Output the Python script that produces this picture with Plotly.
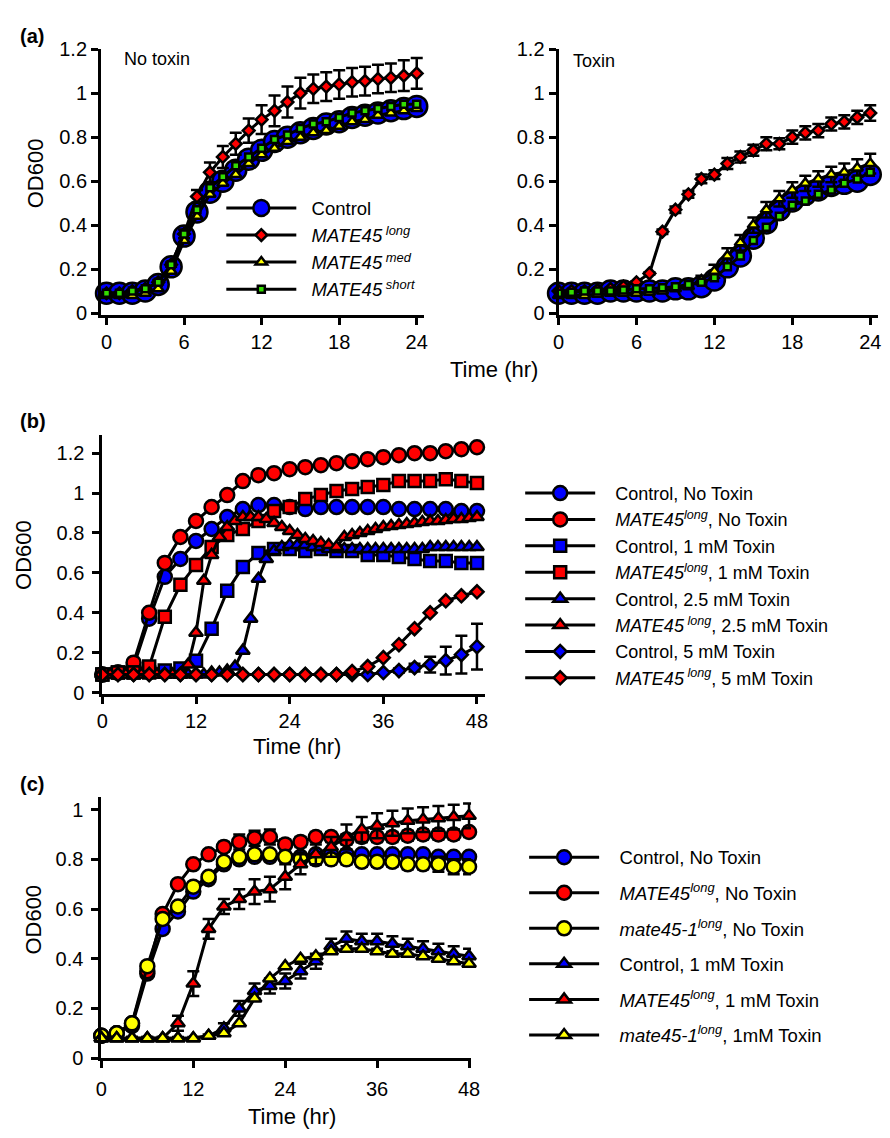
import plotly.graph_objects as go

W, H = 890, 1138
FONT = "Liberation Sans, Arial, Helvetica, sans-serif"


def fx(p):
    return p / W


def fy(p):
    return 1 - p / H


# ---------------- Panel (a): hourly, 0-24 h ----------------
time_a = list(range(25))
a_nt_control = [0.09, 0.09, 0.09, 0.10, 0.13, 0.21, 0.35, 0.46, 0.55, 0.60, 0.65, 0.70, 0.74,
                0.78, 0.80, 0.82, 0.84, 0.86, 0.87, 0.89, 0.90, 0.91, 0.92, 0.93, 0.94]
a_nt_long = [0.09, 0.09, 0.10, 0.11, 0.14, 0.22, 0.36, 0.53, 0.64, 0.71, 0.77, 0.83, 0.88,
             0.92, 0.96, 1.00, 1.02, 1.03, 1.04, 1.05, 1.055, 1.065, 1.07, 1.08, 1.09]
a_nt_long_err = [0.005, 0.005, 0.005, 0.005, 0.01, 0.01, 0.02, 0.03, 0.045, 0.05, 0.05, 0.055, 0.065,
                 0.07, 0.07, 0.07, 0.065, 0.065, 0.065, 0.065, 0.065, 0.065, 0.065, 0.07, 0.07]
a_nt_med = [0.08, 0.08, 0.08, 0.09, 0.11, 0.19, 0.33, 0.44, 0.54, 0.59, 0.63, 0.68, 0.72,
            0.75, 0.78, 0.80, 0.82, 0.83, 0.85, 0.87, 0.88, 0.90, 0.91, 0.92, 0.93]
a_nt_short = [0.09, 0.09, 0.10, 0.11, 0.14, 0.22, 0.36, 0.47, 0.57, 0.62, 0.67, 0.71, 0.75,
              0.79, 0.81, 0.84, 0.86, 0.87, 0.89, 0.91, 0.92, 0.93, 0.94, 0.95, 0.95]

a_tx_control = [0.09, 0.09, 0.09, 0.09, 0.10, 0.10, 0.10, 0.10, 0.10, 0.11, 0.11, 0.12, 0.15,
                0.21, 0.26, 0.34, 0.41, 0.47, 0.51, 0.54, 0.56, 0.58, 0.59, 0.60, 0.63]
a_tx_long = [0.10, 0.10, 0.10, 0.105, 0.11, 0.12, 0.14, 0.18, 0.37, 0.47, 0.54, 0.61, 0.63,
             0.68, 0.71, 0.74, 0.77, 0.77, 0.80, 0.82, 0.83, 0.86, 0.87, 0.89, 0.91]
a_tx_long_err = [0.005, 0.005, 0.005, 0.005, 0.005, 0.005, 0.005, 0.005, 0.01, 0.015, 0.015, 0.02, 0.02,
                 0.025, 0.025, 0.025, 0.03, 0.025, 0.03, 0.03, 0.03, 0.03, 0.03, 0.03, 0.035]
a_tx_med = [0.08, 0.08, 0.08, 0.085, 0.09, 0.09, 0.09, 0.095, 0.10, 0.11, 0.12, 0.15, 0.19,
            0.26, 0.32, 0.40, 0.47, 0.52, 0.56, 0.59, 0.61, 0.63, 0.64, 0.66, 0.68]
a_tx_med_err = [0.005, 0.005, 0.005, 0.005, 0.005, 0.005, 0.005, 0.005, 0.005, 0.005, 0.005, 0.02, 0.03,
                0.035, 0.035, 0.035, 0.035, 0.035, 0.035, 0.035, 0.035, 0.035, 0.04, 0.04, 0.045]
a_tx_short = [0.09, 0.095, 0.10, 0.10, 0.10, 0.105, 0.11, 0.11, 0.115, 0.12, 0.13, 0.14, 0.16,
              0.21, 0.26, 0.33, 0.39, 0.44, 0.49, 0.51, 0.54, 0.56, 0.59, 0.61, 0.64]

a_names = ["Control",
           "<i>MATE45<sup> long</sup></i>",
           "<i>MATE45<sup> med</sup></i>",
           "<i>MATE45<sup> short</sup></i>"]
a_xticks = [0, 6, 12, 18, 24]
a_yticks = [0, 0.2, 0.4, 0.6, 0.8, 1.0, 1.2]
a_yticklabels = ["0", "0.2", "0.4", "0.6", "0.8", "1", "1.2"]

# ---------------- Panel (b): 0-48 h ----------------
time_b2 = list(range(0, 49, 2))   # circles, squares, diamonds
time_b1 = list(range(0, 49))      # triangles (hourly)
b_ctrl_none = [0.09, 0.10, 0.13, 0.37, 0.58, 0.67, 0.76, 0.82, 0.88, 0.92, 0.94, 0.94, 0.93,
               0.92, 0.93, 0.93, 0.93, 0.93, 0.93, 0.92, 0.92, 0.92, 0.92, 0.91, 0.91]
b_long_none = [0.09, 0.10, 0.15, 0.40, 0.65, 0.78, 0.86, 0.93, 0.99, 1.06, 1.09, 1.10, 1.12,
               1.13, 1.14, 1.15, 1.16, 1.17, 1.18, 1.19, 1.20, 1.20, 1.21, 1.22, 1.23]
b_ctrl_1mM = [0.09, 0.10, 0.10, 0.10, 0.11, 0.12, 0.16, 0.32, 0.51, 0.63, 0.70, 0.72, 0.72,
              0.71, 0.72, 0.71, 0.71, 0.69, 0.69, 0.68, 0.67, 0.66, 0.66, 0.65, 0.65]
b_long_1mM = [0.09, 0.10, 0.10, 0.13, 0.38, 0.54, 0.64, 0.73, 0.79, 0.82, 0.86, 0.91, 0.93,
              0.97, 0.99, 1.01, 1.02, 1.03, 1.04, 1.06, 1.06, 1.06, 1.07, 1.06, 1.05]
b_ctrl_25mM = [0.09, 0.09, 0.09, 0.09, 0.09, 0.09, 0.09, 0.09, 0.09, 0.09, 0.09, 0.09, 0.09,
               0.09, 0.10, 0.10, 0.11, 0.13, 0.21, 0.37, 0.57, 0.67, 0.71, 0.73, 0.74,
               0.74, 0.74, 0.73, 0.73, 0.72, 0.72, 0.72, 0.72, 0.72, 0.72, 0.72, 0.72,
               0.72, 0.72, 0.72, 0.72, 0.72, 0.73, 0.73, 0.73, 0.73, 0.73, 0.73, 0.73]
b_long_25mM = [0.09, 0.09, 0.09, 0.09, 0.09, 0.09, 0.09, 0.09, 0.09, 0.09, 0.09, 0.14, 0.30,
               0.56, 0.69, 0.78, 0.83, 0.86, 0.88, 0.88, 0.88, 0.87, 0.85, 0.83, 0.81,
               0.79, 0.77, 0.76, 0.75, 0.74, 0.73, 0.78, 0.79, 0.80, 0.81, 0.82, 0.83,
               0.835, 0.84, 0.845, 0.85, 0.855, 0.86, 0.86, 0.865, 0.87, 0.87, 0.875, 0.88]
b_ctrl_5mM = [0.09, 0.09, 0.09, 0.09, 0.09, 0.09, 0.09, 0.09, 0.09, 0.09, 0.09, 0.09, 0.09,
              0.09, 0.09, 0.09, 0.09, 0.09, 0.10, 0.11, 0.125, 0.14, 0.16, 0.19, 0.23]
b_ctrl_5mM_err = [0.005, 0.005, 0.005, 0.005, 0.005, 0.005, 0.005, 0.005, 0.005, 0.005, 0.005, 0.005, 0.005,
                  0.005, 0.005, 0.005, 0.005, 0.005, 0.005, 0.01, 0.02, 0.04, 0.07, 0.095, 0.115]
b_long_5mM = [0.09, 0.09, 0.09, 0.09, 0.09, 0.09, 0.09, 0.09, 0.09, 0.09, 0.09, 0.09, 0.09,
              0.09, 0.09, 0.09, 0.105, 0.13, 0.175, 0.24, 0.32, 0.40, 0.46, 0.485, 0.505]

b_names = ["Control, No Toxin",
           "<i>MATE45<sup>long</sup></i>, No Toxin",
           "Control, 1 mM Toxin",
           "<i>MATE45<sup>long</sup></i>, 1 mM Toxin",
           "Control, 2.5 mM Toxin",
           "<i>MATE45<sup> long</sup></i>, 2.5 mM Toxin",
           "Control, 5 mM Toxin",
           "<i>MATE45<sup> long</sup></i>, 5 mM Toxin"]
b_xticks = [0, 12, 24, 36, 48]
b_yticks = [0, 0.2, 0.4, 0.6, 0.8, 1.0, 1.2]
b_yticklabels = ["0", "0.2", "0.4", "0.6", "0.8", "1", "1.2"]

# ---------------- Panel (c): every 2 h, 0-48 h ----------------
time_c = list(range(0, 49, 2))
c_ctrl_none = [0.09, 0.10, 0.13, 0.34, 0.52, 0.59, 0.67, 0.72, 0.78, 0.80, 0.81, 0.81, 0.81,
               0.81, 0.82, 0.82, 0.82, 0.82, 0.82, 0.82, 0.82, 0.82, 0.81, 0.81, 0.81]
c_long_none = [0.09, 0.10, 0.14, 0.35, 0.58, 0.70, 0.78, 0.82, 0.85, 0.87, 0.885, 0.89, 0.86,
               0.87, 0.89, 0.89, 0.88, 0.89, 0.89, 0.89, 0.895, 0.90, 0.90, 0.90, 0.91]
c_long_none_err = [0.005, 0.005, 0.005, 0.01, 0.01, 0.01, 0.01, 0.01, 0.02, 0.03, 0.03, 0.03, 0.02,
                   0.02, 0.02, 0.02, 0.02, 0.02, 0.02, 0.02, 0.02, 0.02, 0.02, 0.02, 0.02]
c_mut_none = [0.09, 0.10, 0.14, 0.37, 0.56, 0.61, 0.69, 0.73, 0.79, 0.81, 0.82, 0.82, 0.81,
              0.80, 0.80, 0.80, 0.80, 0.79, 0.79, 0.79, 0.78, 0.78, 0.78, 0.77, 0.77]
c_mut_none_err = [0.005, 0.005, 0.005, 0.01, 0.01, 0.01, 0.01, 0.01, 0.01, 0.01, 0.01, 0.01, 0.01,
                  0.02, 0.02, 0.02, 0.02, 0.02, 0.02, 0.02, 0.02, 0.02, 0.03, 0.03, 0.03]
c_ctrl_1mM = [0.08, 0.08, 0.08, 0.08, 0.08, 0.08, 0.08, 0.09, 0.12, 0.20, 0.27, 0.29, 0.31,
              0.35, 0.39, 0.45, 0.48, 0.47, 0.47, 0.46, 0.45, 0.44, 0.43, 0.42, 0.41]
c_ctrl_1mM_err = [0.005, 0.005, 0.005, 0.005, 0.005, 0.005, 0.005, 0.005, 0.02, 0.03, 0.03, 0.03, 0.03,
                  0.03, 0.03, 0.03, 0.03, 0.03, 0.03, 0.03, 0.03, 0.03, 0.03, 0.03, 0.03]
c_long_1mM = [0.08, 0.08, 0.08, 0.08, 0.08, 0.14, 0.30, 0.52, 0.61, 0.64, 0.67, 0.68, 0.73,
              0.78, 0.82, 0.85, 0.89, 0.92, 0.935, 0.945, 0.955, 0.96, 0.965, 0.97, 0.975]
c_long_1mM_err = [0.005, 0.005, 0.005, 0.005, 0.005, 0.03, 0.05, 0.04, 0.03, 0.04, 0.05, 0.05, 0.05,
                  0.04, 0.04, 0.04, 0.05, 0.05, 0.05, 0.05, 0.05, 0.05, 0.05, 0.05, 0.05]
c_mut_1mM = [0.08, 0.08, 0.08, 0.08, 0.08, 0.08, 0.08, 0.09, 0.10, 0.14, 0.24, 0.32, 0.37,
             0.40, 0.41, 0.43, 0.44, 0.44, 0.43, 0.42, 0.42, 0.41, 0.40, 0.39, 0.38]

c_names = ["Control, No Toxin",
           "<i>MATE45<sup>long</sup></i>, No Toxin",
           "<i>mate45-1<sup>long</sup></i>, No Toxin",
           "Control, 1 mM Toxin",
           "<i>MATE45<sup>long</sup></i>, 1 mM Toxin",
           "<i>mate45-1<sup>long</sup></i>, 1mM Toxin"]
c_xticks = [0, 12, 24, 36, 48]
c_yticks = [0, 0.2, 0.4, 0.6, 0.8, 1.0]
c_yticklabels = ["0", "0.2", "0.4", "0.6", "0.8", "1"]

BLUE, RED, YELLOW, GREEN = "#0000FF", "#FF0000", "#FFFF00", "#33DD00"
NB = "\u00a0"  # non-breaking space used to pad legend labels away from the symbols

fig = go.Figure()


def add(x, y, name, symbol, color, size, xa, ya, legend=None, err=None, group=None, pad=0):
    fig.add_trace(go.Scatter(
        x=x, y=y, name=NB * pad + name, mode="lines+markers",
        xaxis=xa, yaxis=ya, cliponaxis=False,
        line=dict(color="black", width=3),
        marker=dict(symbol=symbol, color=color, size=size,
                    line=dict(color="black", width=2.5)),
        error_y=dict(type="data", array=err if err is not None else [],
                     visible=err is not None, color="black", thickness=2.5, width=6),
        showlegend=legend is not None,
        legend=legend if legend is not None else "legend",
        legendgroup=group,
    ))


# Panel (a) left: No toxin
add(time_a, a_nt_control, a_names[0], "circle", BLUE, 21, "x", "y", "legend", group="a0", pad=2)
add(time_a, a_nt_long, a_names[1], "diamond", RED, 9, "x", "y", "legend", err=a_nt_long_err, group="a1", pad=2)
add(time_a, a_nt_med, a_names[2], "triangle-up", YELLOW, 10, "x", "y", "legend", group="a2", pad=2)
add(time_a, a_nt_short, a_names[3], "square", GREEN, 7, "x", "y", "legend", group="a3", pad=2)
# Panel (a) right: Toxin
add(time_a, a_tx_control, a_names[0], "circle", BLUE, 21, "x2", "y2")
add(time_a, a_tx_long, a_names[1], "diamond", RED, 9, "x2", "y2", err=a_tx_long_err)
add(time_a, a_tx_med, a_names[2], "triangle-up", YELLOW, 10, "x2", "y2", err=a_tx_med_err)
add(time_a, a_tx_short, a_names[3], "square", GREEN, 7, "x2", "y2")

# Panel (b)
add(time_b2, b_ctrl_none, b_names[0], "circle", BLUE, 14, "x3", "y3", "legend2", group="b0", pad=3)
add(time_b2, b_long_none, b_names[1], "circle", RED, 14, "x3", "y3", "legend2", group="b1", pad=3)
add(time_b2, b_ctrl_1mM, b_names[2], "square", BLUE, 12, "x3", "y3", "legend2", group="b2", pad=3)
add(time_b2, b_long_1mM, b_names[3], "square", RED, 12, "x3", "y3", "legend2", group="b3", pad=3)
add(time_b1, b_ctrl_25mM, b_names[4], "triangle-up", BLUE, 12, "x3", "y3", "legend2", group="b4", pad=3)
add(time_b1, b_long_25mM, b_names[5], "triangle-up", RED, 12, "x3", "y3", "legend2", group="b5", pad=3)
add(time_b2, b_ctrl_5mM, b_names[6], "diamond", BLUE, 10, "x3", "y3", "legend2", err=b_ctrl_5mM_err, group="b6", pad=3)
add(time_b2, b_long_5mM, b_names[7], "diamond", RED, 10, "x3", "y3", "legend2", group="b7", pad=3)

# Panel (c)
add(time_c, c_ctrl_none, c_names[0], "circle", BLUE, 14, "x4", "y4", "legend3", group="c0", pad=3)
add(time_c, c_long_none, c_names[1], "circle", RED, 14, "x4", "y4", "legend3", err=c_long_none_err, group="c1", pad=3)
add(time_c, c_mut_none, c_names[2], "circle", YELLOW, 14, "x4", "y4", "legend3", err=c_mut_none_err, group="c2", pad=3)
add(time_c, c_ctrl_1mM, c_names[3], "triangle-up", BLUE, 12, "x4", "y4", "legend3", err=c_ctrl_1mM_err, group="c3", pad=3)
add(time_c, c_long_1mM, c_names[4], "triangle-up", RED, 12, "x4", "y4", "legend3", err=c_long_1mM_err, group="c4", pad=3)
add(time_c, c_mut_1mM, c_names[5], "triangle-up", YELLOW, 12, "x4", "y4", "legend3", group="c5", pad=3)

tickfont = dict(family=FONT, size=20, color="black")


def xaxis(domain, rng, ticks, anchor, standoff=0):
    return dict(domain=domain, range=rng, tickvals=ticks, ticktext=[str(t) for t in ticks],
                showline=True, linewidth=3, linecolor="black", ticks="outside",
                ticklen=7, tickwidth=3, tickcolor="black", showgrid=False, zeroline=False,
                tickfont=tickfont, anchor=anchor, fixedrange=True, ticklabelstandoff=standoff)


def yaxis(domain, rng, ticks, labels, anchor, standoff=0):
    return dict(domain=domain, range=rng, tickvals=ticks, ticktext=labels,
                showline=True, linewidth=3, linecolor="black", ticks="outside",
                ticklen=7, tickwidth=3, tickcolor="black", showgrid=False, zeroline=False,
                tickfont=tickfont, anchor=anchor, fixedrange=True, ticklabelstandoff=standoff)


def legend(x, y, gap, size):
    return dict(x=fx(x), y=fy(y), xanchor="left", yanchor="top",
                font=dict(family=FONT, size=size, color="black"),
                bgcolor="rgba(0,0,0,0)", borderwidth=0, itemwidth=70,
                traceorder="grouped", tracegroupgap=gap, itemsizing="trace",
                itemclick=False, itemdoubleclick=False)


def note(text, x, y, size, xanchor="left", angle=0, bold=False):
    return dict(text=f"<b>{text}</b>" if bold else text, x=fx(x), y=fy(y),
                xref="paper", yref="paper", xanchor=xanchor, yanchor="middle",
                showarrow=False, textangle=angle,
                font=dict(family=FONT, size=size, color="black"))


fig.update_layout(
    width=W, height=H, margin=dict(l=0, r=0, t=0, b=0),
    paper_bgcolor="white", plot_bgcolor="white",
    font=dict(family=FONT, color="black"),
    xaxis=xaxis([fx(96.7), fx(425)], [-0.42, 24.55], a_xticks, "y"),
    yaxis=yaxis([fy(310), fy(39)], [-0.009, 1.2], a_yticks, a_yticklabels, "x"),
    xaxis2=xaxis([fx(562), fx(887)], [0, 24.6], a_xticks, "y2"),
    yaxis2=yaxis([fy(310), fy(39)], [-0.009, 1.2], a_yticks, a_yticklabels, "x2"),
    xaxis3=xaxis([fx(98), fx(487)], [0, 49.0], b_xticks, "y3"),
    yaxis3=yaxis([fy(696), fy(432)], [-0.005, 1.293], b_yticks, b_yticklabels, "x3", standoff=4),
    xaxis4=xaxis([fx(97), fx(473)], [0, 48.26], c_xticks, "y4", standoff=4),
    yaxis4=yaxis([fy(1068), fy(801.7)], [-0.001, 1.05], c_yticks, c_yticklabels, "x4", standoff=4),
    legend=legend(219, 182, 0, 18.5),
    legend2=legend(523, 473, 0, 18),
    legend3=legend(527, 844, 8.5, 18.5),
    annotations=[
        note("(a)", 12, 25, 20, bold=True),
        note("(b)", 12, 418, 20, bold=True),
        note("(c)", 12, 788, 20, bold=True),
        note("No toxin", 118, 49, 18),
        note("Toxin", 575, 51, 18),
        note("OD600", 30, 165, 22, xanchor="center", angle=-90),
        note("OD600", 18, 555, 22, xanchor="center", angle=-90),
        note("OD600", 28, 927, 22, xanchor="center", angle=-90),
        note("Time (hr)", 496, 366, 22, xanchor="center"),
        note("Time (hr)", 296, 750, 22, xanchor="center"),
        note("Time (hr)", 291, 1127, 22, xanchor="center"),
    ],
)

fig.write_html("out.html", config={"displayModeBar": False},
               post_script="document.body.style.margin='0';document.body.style.overflow='hidden';")
